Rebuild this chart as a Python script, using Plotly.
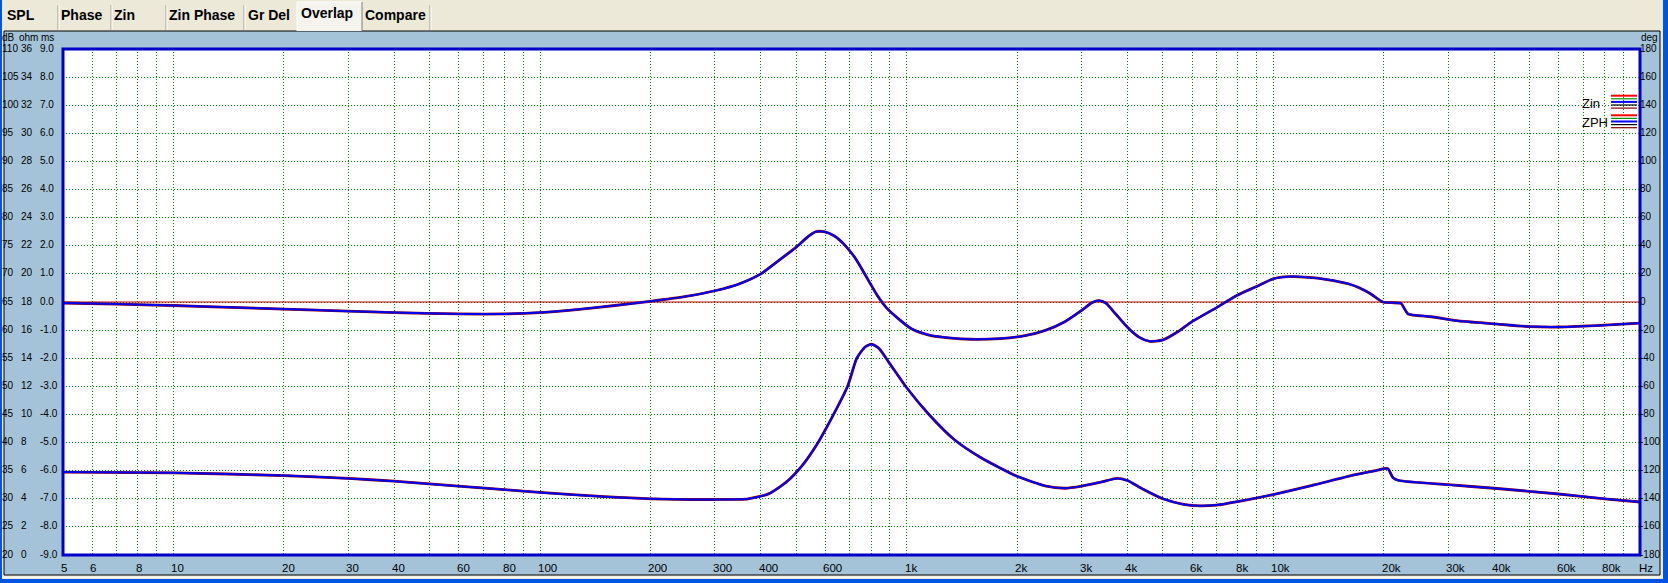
import math
import plotly.graph_objects as go

# ---------------- data ----------------
freq_zin = [5, 10, 20, 30, 40, 60, 80, 100, 150, 200, 300, 370, 420, 470, 520, 570, 620, 690, 731, 770,
            802, 840, 900, 1000, 1150, 1350, 1600, 2000, 2400, 2700, 3000, 3400, 3750, 4000, 4400, 5000,
            5700, 6300, 7000, 8000, 10000, 13000, 16000, 19000, 20500, 21200, 22000, 30000, 40000, 60000,
            80000, 100000]
zin_ohm = [5.9, 5.85, 5.65, 5.45, 5.25, 4.9, 4.65, 4.45, 4.15, 4.0, 3.95, 4.0, 4.35, 5.2, 6.4, 7.9, 9.6, 12.0, 14.0, 14.8,
           15.0, 14.7, 13.6, 11.9, 10.0, 8.2, 6.9, 5.6, 4.9, 4.75, 4.9, 5.2, 5.45, 5.3, 4.7, 4.0,
           3.6, 3.5, 3.55, 3.8, 4.3, 5.0, 5.6, 6.0, 6.15, 5.5, 5.3, 5.0, 4.75, 4.34,
           4.0, 3.77]

freq_zph = [5, 7, 10, 15, 20, 30, 40, 60, 80, 100, 130, 160, 200, 250, 300, 350, 400, 450, 500, 535,
            565, 595, 635, 675, 725, 780, 830, 880, 950, 1030, 1150, 1300, 1500, 1800, 2100, 2400, 2700,
            3000, 3200, 3350, 3500, 3700, 4000, 4300, 4600, 5000, 5500, 6000, 7000, 8000, 9000, 10000,
            11000, 12500, 14000, 16000, 17200, 18500, 19900, 21000, 22300, 22800, 23300, 27000, 32000,
            40000, 50000, 60000, 80000, 100000]
zph_deg = [-0.7, -1.5, -2.5, -4, -5, -6.5, -7.5, -8.5, -8.5, -7.5, -5, -2.5, 0.5, 4, 8, 13, 20, 30, 39, 46,
           50, 50, 47, 41, 31, 17, 5, -4, -12, -19, -23.5, -25.5, -26.5, -26, -24, -20, -14,
           -6, -0.5, 1, -1, -8, -18, -25, -28, -27, -21, -14, -4, 5, 11, 16.5,
           18, 17.5, 16, 13, 10, 5.5, 0, -0.5, -1, -5, -8.5, -10.5, -13.5,
           -15.5, -17.5, -17.8, -16.5, -15]

ref_freq = [5, 100000]
ref_deg = [0, 0]

x_grid = [m * d for d in (1, 10, 100, 1000, 10000) for m in range(1, 10) if 5 < m * d <= 90000]
x_tick_vals = [5, 6, 8, 10, 20, 30, 40, 60, 80, 100, 200, 300, 400, 600, 1000, 2000, 3000, 4000,
               6000, 8000, 10000, 20000, 30000, 40000, 60000, 80000]
x_tick_text = ["5", "6", "8", "10", "20", "30", "40", "60", "80", "100", "200", "300", "400", "600",
               "1k", "2k", "3k", "4k", "6k", "8k", "10k", "20k", "30k", "40k", "60k", "80k"]
db_labels = [str(v) for v in range(110, 15, -5)]
ohm_values = list(range(36, -1, -2))
ms_labels = ["9.0", "8.0", "7.0", "6.0", "5.0", "4.0", "3.0", "2.0", "1.0", "0.0",
             "-1.0", "-2.0", "-3.0", "-4.0", "-5.0", "-6.0", "-7.0", "-8.0", "-9.0"]
deg_values = list(range(180, -181, -20))
tab_names = ["SPL", "Phase", "Zin", "Zin Phase", "Gr Del", "Overlap", "Compare"]
legend_names = ["Zin", "ZPH"]
legend_colors = ["#ff0000", "#009000", "#0000ff", "#000000", "#800000"]

# ---------------- layout geometry (pixels) ----------------
W, H = 1668, 583
L, R, T, B = 63, 1640, 49, 555
PW, PH = R - L, B - T
XS = -3  # annotation text offset correction


def px(x):
    return (x - L) / PW


def py(y):
    return (B - y) / PH


FONT = "Liberation Sans, Arial, sans-serif"
PANEL = "#a4c3d8"
BEIGE = "#ece9d8"
XPBLUE = "#0054e3"

fig = go.Figure()

# traces
fig.add_trace(go.Scatter(x=ref_freq, y=ref_deg, yaxis="y2", mode="lines",
                         line=dict(color="#c00000", width=1.2), hoverinfo="skip"))
fig.add_trace(go.Scatter(x=freq_zph, y=zph_deg, yaxis="y2", mode="lines",
                         line=dict(color="#900000", width=2.8, shape="spline", smoothing=0.6)))
fig.add_trace(go.Scatter(x=freq_zph, y=zph_deg, yaxis="y2", mode="lines",
                         line=dict(color="#0000f0", width=2.0, shape="spline", smoothing=0.6)))
fig.add_trace(go.Scatter(x=freq_zin, y=zin_ohm, mode="lines",
                         line=dict(color="#900000", width=2.8, shape="spline", smoothing=0.6)))
fig.add_trace(go.Scatter(x=freq_zin, y=zin_ohm, mode="lines",
                         line=dict(color="#0000f0", width=2.0, shape="spline", smoothing=0.6)))

shapes = []
ann = []


def rect(x0, y0, x1, y1, fill, line=None, lw=0, layer="below"):
    shapes.append(dict(type="rect", xref="paper", yref="paper", x0=px(x0), x1=px(x1), y0=py(y1), y1=py(y0),
                       fillcolor=fill, line=dict(color=line or fill, width=lw), layer=layer))


def hline(x0, x1, y, color, w=1, layer="below"):
    shapes.append(dict(type="line", xref="paper", yref="paper", x0=px(x0), x1=px(x1), y0=py(y), y1=py(y),
                       line=dict(color=color, width=w), layer=layer))


def vline(x, y0, y1, color, w=1, layer="below"):
    shapes.append(dict(type="line", xref="paper", yref="paper", x0=px(x), x1=px(x), y0=py(y0), y1=py(y1),
                       line=dict(color=color, width=w), layer=layer))


def label(text, x, y, size, yref="paper", weight="normal", yshift=0):
    ann.append(dict(text=text, xref="paper", yref=yref, x=px(x), y=(py(y) if yref == "paper" else y),
                    xanchor="left", yanchor="middle", showarrow=False, xshift=XS, yshift=yshift,
                    borderpad=0, borderwidth=0,
                    font=dict(family=FONT, size=size, color="#000000", weight=weight)))


# window chrome
rect(0, 0, W, 31, BEIGE)
rect(1660, 0, W, H, BEIGE)
rect(0, 575, W, H, BEIGE)
rect(0, 0, 4, H, BEIGE)
hline(4, 1660, 31, "#000000", 1)
hline(4, 1660, 575, "#000000", 1)
vline(4, 31, 575, "#000000", 1)
vline(1660, 31, 575, "#000000", 1)
rect(0, 0, 2, H, XPBLUE)
rect(1663, 0, W, H, XPBLUE)
rect(0, 579, W, H, XPBLUE)
hline(2, 1663, 577, "#ffffff", 1)

# tabs
tab_text_x = [10, 64, 117, 172, 251, 304, 368]
separators = [58, 111, 166, 244, 430]
for sx in separators:
    vline(sx, 5, 30, "#9d9d92", 1)
    vline(sx + 1, 5, 30, "#ffffff", 1)
rect(297, 2, 362, 31, "#f4f3ee")
vline(297, 2, 31, "#ffffff", 1)
hline(297, 362, 2, "#ffffff", 1)
vline(362, 2, 31, "#7f7f75", 1)
for name, tx in zip(tab_names, tab_text_x):
    label(name, tx, 12.5 if name == "Overlap" else 14.5, 14, weight="bold")

# plot border
shapes.append(dict(type="rect", xref="paper", yref="paper", x0=0, x1=1, y0=0, y1=1,
                   line=dict(color="#0000c8", width=3), layer="above"))

# left axis labels
label("dB", 5, 37.5, 10)
label("ohm", 22, 37.5, 10)
label("ms", 43.5, 37.5, 10)
for db, ohm, ms in zip(db_labels, ohm_values, ms_labels):
    label(db, 5, ohm, 10, yref="y", yshift=1)
    label(str(ohm), 24, ohm, 10, yref="y", yshift=1)
    label(ms, 43, ohm, 10, yref="y", yshift=1)

# right axis labels
label("deg", 1644, 37.5, 10)
for d in deg_values:
    ann.append(dict(text=str(d), xref="paper", yref="y2", x=px(1643), y=d, xanchor="left",
                    yanchor="middle", showarrow=False, xshift=XS, yshift=1, borderpad=0, borderwidth=0,
                    font=dict(family=FONT, size=10, color="#000000")))

# x labels
for v, t in zip(x_tick_vals, x_tick_text):
    ann.append(dict(text=t, xref="x", yref="paper", x=math.log10(v), y=py(568), xanchor="left",
                    yanchor="middle", showarrow=False, xshift=XS + 1, borderpad=0, borderwidth=0,
                    font=dict(family=FONT, size=11.5, color="#000000")))
label("Hz", 1642, 568, 11.5)

# legend
for name, ty, ly in zip(legend_names, (103, 122), (95.7, 115.3)):
    label(name, 1585, ty, 13)
    for i, c in enumerate(legend_colors):
        hline(1611, 1637, ly + i * 3.1, c, 2 if i in (0, 2) else 1.2, layer="above")

fig.update_layout(
    width=W, height=H, autosize=False,
    margin=dict(l=L, r=W - R, t=T, b=H - B, pad=0),
    paper_bgcolor=PANEL, plot_bgcolor="#ffffff",
    showlegend=False,
    xaxis=dict(type="log", range=[math.log10(5), math.log10(100000)], tickvals=x_grid,
               showticklabels=False, ticks="", showgrid=True, gridcolor="#008000", gridwidth=1,
               griddash="1px,2px", zeroline=False, showline=False, fixedrange=True),
    yaxis=dict(range=[0, 36], dtick=2, showticklabels=False, ticks="", showgrid=True, gridcolor="#008000",
               gridwidth=1, griddash="1px,2px", zeroline=False, showline=False),
    yaxis2=dict(range=[-180, 180], overlaying="y", side="right", showgrid=False, showticklabels=False,
                ticks="", zeroline=False, showline=False),
    shapes=shapes, annotations=ann,
)

fig.write_html("out.html", config={"displayModeBar": False},
               post_script="document.body.style.margin='0px';document.body.style.overflow='hidden';")
